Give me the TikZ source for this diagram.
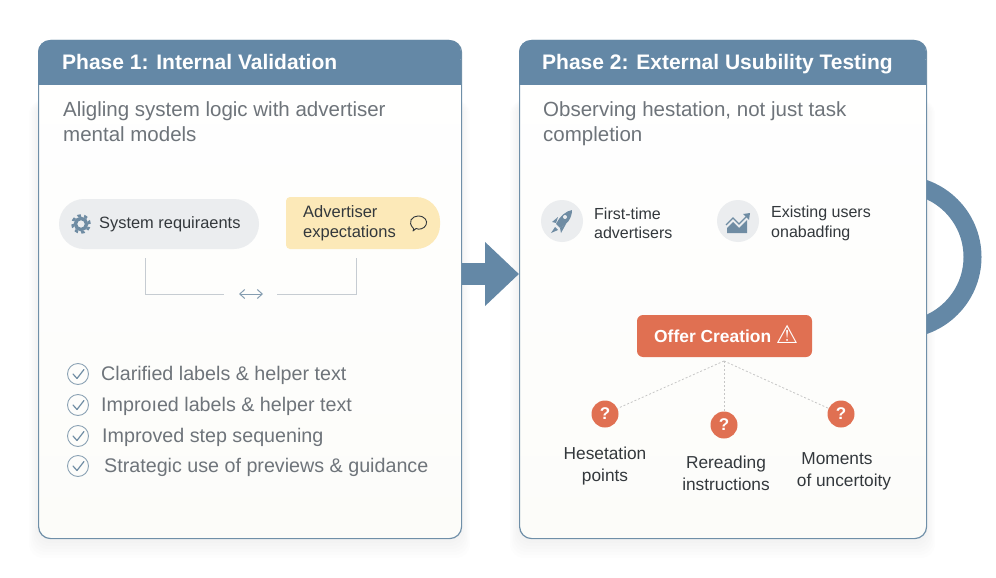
\documentclass[tikz,border=0pt]{standalone}
\usepackage{fontspec}
\setmainfont{Liberation Sans}
\newfontfamily\symbolfont{DejaVu Sans}
\usetikzlibrary{arrows.meta, shapes.geometric}
\definecolor{phaseblue}{HTML}{6488A6}
\definecolor{edgeblue}{HTML}{6F8FA8}
\definecolor{greytext}{HTML}{6E747A}
\definecolor{darktext}{HTML}{33383C}
\definecolor{pillgrey}{HTML}{EBEDEF}
\definecolor{pillyellow}{HTML}{FCE9B8}
\definecolor{offerred}{HTML}{E07052}
\definecolor{linegrey}{HTML}{C6CCD2}
\definecolor{warmwhite}{HTML}{FCFCF9}
\definecolor{iconblue}{HTML}{6F8CA3}
\tikzset{
    panel/.style={draw=edgeblue, line width=1.2pt, rounded corners=12pt, top color=white, bottom color=warmwhite, anchor=north west},
    phase_title/.style={anchor=base west, inner sep=0pt, text=white, font=\fontsize{21}{26}\bfseries\selectfont},
    subtitle/.style={anchor=north west, inner sep=0pt, align=left, text=greytext, font=\fontsize{20.5}{25}\selectfont},
    label_small/.style={text=darktext, anchor=west, align=left, inner sep=0pt, font=\fontsize{16}{19.5}\selectfont},
    check_icon/.style={circle, draw=iconblue!80, line width=0.9pt, minimum size=21pt, inner sep=0pt},
    check_mark/.style={iconblue, line width=1.2pt, line cap=round, line join=round},
    check_text/.style={anchor=base west, inner sep=0pt, text=greytext, font=\fontsize{19.7}{22}\selectfont},
    user_icon/.style={circle, fill=pillgrey, minimum size=42pt, inner sep=0pt},
    question/.style={circle, fill=offerred, minimum size=27pt, inner sep=0pt, text=white, font=\fontsize{17}{17}\bfseries\selectfont},
    question_text/.style={text=darktext, font=\fontsize{17.3}{22}\selectfont},
    dotted_link/.style={draw=gray!45, dash pattern=on 2pt off 2pt, line width=0.8pt}
}
\begin{document}
\begin{tikzpicture}[x=1pt, y=-1pt, every node/.style={align=center}]
\useasboundingbox (0,0) rectangle (996,578);

\foreach \grow in {3,6,9,12,15,18} {
    \fill[black, opacity=0.006, rounded corners=14pt] (38-\grow/2,100) rectangle (461+\grow/2,540+\grow);
    \fill[black, opacity=0.006, rounded corners=14pt] (519-\grow/2,100) rectangle (926+\grow/2,540+\grow);
}

\node (ring_loop) [circle, draw=phaseblue, line width=18pt, minimum size=145pt, inner sep=0pt] at (900,257) {};
\node (phase_one) [panel, rectangle, minimum width=423pt, minimum height=498pt] at (38,40) {};
\node (phase_two) [panel, rectangle, minimum width=407pt, minimum height=498pt] at (519,40) {};

\fill[phaseblue, rounded corners=12pt] (38,40) rectangle (461,70);
\fill[phaseblue] (38,60) rectangle (461,85);
\fill[phaseblue, rounded corners=12pt] (519,40) rectangle (926,70);
\fill[phaseblue] (519,60) rectangle (926,85);

\node (phase_one_title) [phase_title] at (62,69.5) {Phase 1: Internal Validation};
\node (phase_two_title) [phase_title] at (542,69.5) {Phase 2: External Usubility Testing};
\node (phase_one_sub) [subtitle] at (63,101) {Aligling system logic with advertiser\\mental models};
\node (phase_two_sub) [subtitle] at (543,101) {Observing hestation, not just task\\completion};

\node (system_req) [rectangle, fill=pillgrey, rounded corners=25pt, minimum width=200pt, minimum height=50pt] at (159,224) {};
\draw[iconblue, line width=3.4pt] (81,224) circle[radius=5.6pt];
\draw[iconblue, line width=2.6pt, dash pattern=on 3.4pt off 3.27pt] (81,224) circle[radius=8.5pt];
\node (system_text) [label_small, font=\fontsize{16.4}{19.5}\selectfont] at (99,224) {System requiraents};

\fill[pillyellow] (286,249) [rounded corners=4pt] -- (286,197) [rounded corners=24pt] -- (440,197) -- (440,249) [rounded corners=4pt] -- cycle;
\node (advertiser_exp) [label_small, font=\fontsize{16.5}{19.5}\selectfont] at (303,223) {Advertiser\\expectations};
\draw[darktext, line width=0.9pt, line join=round] (413,231) .. controls (414,229) .. (413.5,228.5) .. controls (407,222) and (412,216) .. (418,216) .. controls (425,216) and (428,221) .. (426,225) .. controls (424,229) and (419,230) .. (416,228.5) -- cycle;

\coordinate (bracket_left) at (145,258);
\coordinate (bracket_right) at (356,258);
\coordinate (swap_left) at (239,294);
\coordinate (swap_right) at (263,294);
\coordinate (gap_left) at (224,294);
\coordinate (gap_right) at (277,294);
\draw[linegrey, line width=1pt] (bracket_left) |- (gap_left);
\draw[linegrey, line width=1pt] (bracket_right) |- (gap_right);
\draw[{Straight Barb[length=5pt,width=9pt]}-{Straight Barb[length=5pt,width=9pt]}, iconblue!85, line width=1pt] (swap_left) -- (swap_right);

\node (check_one) [check_icon] at (78,374) {};
\node (check_two) [check_icon] at (78,405) {};
\node (check_three) [check_icon] at (78,436) {};
\node (check_four) [check_icon] at (78,466) {};
\draw[check_mark] (73,374) -- (77,378.5) -- (84,369.5);
\draw[check_mark] (73,405) -- (77,409.5) -- (84,400.5);
\draw[check_mark] (73,436) -- (77,440.5) -- (84,431.5);
\draw[check_mark] (73,466) -- (77,470.5) -- (84,461.5);
\node (check_one_text) [check_text] at (101,380.5) {Clarified labels \& helper text};
\node (check_two_text) [check_text] at (101,411.5) {Improıed labels \& helper text};
\node (check_three_text) [check_text] at (102,442) {Improved step sequening};
\node (check_four_text) [check_text] at (104,472.5) {Strategic use of previews \& guidance};

\draw[-{Triangle[length=34pt,width=62pt]}, phaseblue, line width=22pt] (phase_one.east |- 0,274) -- (phase_two.west |- 0,274);

\node (first_time) [user_icon] at (562,221) {};
\node (existing_users) [user_icon] at (738,221) {};
\node (first_time_text) [label_small] at (594,223.5) {First-time\\advertisers};
\node (existing_users_text) [label_small] at (771,223.5) {Existing users\\onabadfing};

\fill[iconblue] (572,210) .. controls (566,211) and (560,216) .. (556,224) -- (560,228) .. controls (567,225) and (572,218) .. (572,210) -- cycle;
\fill[iconblue] (558,217) -- (552,222) -- (556,223) -- cycle;
\fill[iconblue] (566,224) -- (561,233) -- (560,228) -- cycle;
\fill[iconblue] (555,227) -- (551,233) -- (558,230) -- cycle;
\fill[pillgrey] (565,217) circle[radius=2pt];

\fill[iconblue] (727,233) -- (727,228) -- (733,222) -- (739,228) -- (747,220) -- (747,233) -- cycle;
\draw[iconblue, line width=1.3pt] (726,225) -- (733,218) -- (739,224) -- (748,215);
\fill[iconblue] (750,213) -- (743,214) -- (749,220) -- cycle;

\node (offer_creation) [rectangle, fill=offerred, rounded corners=6pt, minimum width=175pt, minimum height=42pt] at (724.5,336) {};
\node (offer_text) [anchor=base west, inner sep=0pt, text=white, font=\fontsize{17.4}{20}\bfseries\selectfont] at (654,342) {Offer Creation};
\node (offer_warning) [text=white, font=\symbolfont\fontsize{25}{25}\selectfont, inner sep=0pt] at (787,334.5) {⚠};

\coordinate (offer_hub) at (724,361);
\node (q_hesitation) [question] at (605,414) {?};
\node (q_rereading) [question] at (724,425) {?};
\node (q_moments) [question] at (841,414) {?};
\draw[dotted_link] (offer_hub) -- (q_hesitation);
\draw[dotted_link] (offer_hub) -- (q_rereading);
\draw[dotted_link] (offer_hub) -- (q_moments);

\node (hesitation_text) [question_text] at (605,466) {Hesetation\\points};
\node (rereading_text) [question_text] at (726,473) {Rereading\\instructions};
\node (moments_text) [question_text] at (844,471) {Moments\hspace*{14pt}\\of uncertoity};
\end{tikzpicture}
\end{document}
